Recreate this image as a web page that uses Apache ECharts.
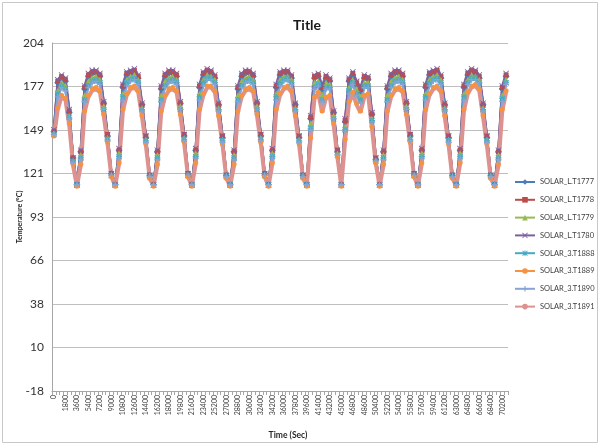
<!DOCTYPE html>
<html>
<head>
<meta charset="utf-8">
<script src="https://cdn.jsdelivr.net/npm/echarts@6/dist/echarts.min.js"></script>
<style>
  html, body { margin: 0; padding: 0; background: #ffffff; }
  #chart { width: 600px; height: 445px; }
</style>
</head>
<body>
<div id="chart"></div>
<script>
// Sample times (s), one reading every 600 s
const timeSec = [
  0,600,1200,1800,2400,3000,3600,4200,4800,5400,
  6000,6600,7200,7800,8400,9000,9600,10200,10800,11400,
  12000,12600,13200,13800,14400,15000,15600,16200,16800,17400,
  18000,18600,19200,19800,20400,21000,21600,22200,22800,23400,
  24000,24600,25200,25800,26400,27000,27600,28200,28800,29400,
  30000,30600,31200,31800,32400,33000,33600,34200,34800,35400,
  36000,36600,37200,37800,38400,39000,39600,40200,40800,41400,
  42000,42600,43200,43800,44400,45000,45600,46200,46800,47400,
  48000,48600,49200,49800,50400,51000,51600,52200,52800,53400,
  54000,54600,55200,55800,56400,57000,57600,58200,58800,59400,
  60000,60600,61200,61800,62400,63000,63600,64200,64800,65400,
  66000,66600,67200,67800,68400,69000,69600,70200,70800
];

// Temperature tick labels (°C), one per 50 °F step from 0 °F to 400 °F
const yTickLabels = ['-18', '10', '38', '66', '93', '121', '149', '177', '204'];

// Temperatures (°C)
const solarL_T1777 = [
  148,179,182,180,160,131,114,
  135,175,183,185,185,183,166,145,121,114,
  136,176,184,185,186,182,165,144,120,114,
  135,175,183,185,185,183,166,145,121,114,
  136,176,184,186,185,182,165,144,120,114,
  135,175,183,185,185,183,166,145,121,114,
  136,176,184,185,185,182,165,144,120,114,
  156,182,183,175,182,180,160,135,114,
  154,180,184,178,174,182,181,159,130,114,
  135,175,183,185,185,183,166,145,121,114,
  136,176,184,185,186,182,165,144,120,114,
  136,176,184,186,185,182,165,144,120,114,
  135,175,183
];
const solarL_T1778 = [
  148,180,183,181,161,131,114,
  135,176,184,186,186,184,166,146,121,114,
  136,177,185,186,187,183,165,145,120,114,
  135,176,184,186,186,184,166,146,121,114,
  136,177,185,187,186,183,165,145,120,114,
  135,176,184,186,186,184,166,146,121,114,
  136,177,185,186,186,183,165,145,120,114,
  157,183,184,176,183,181,160,136,114,
  155,181,185,179,175,183,182,159,131,114,
  135,176,184,186,186,184,166,146,121,114,
  136,177,185,186,187,183,165,145,120,114,
  136,177,185,187,186,183,165,145,120,114,
  135,176,184
];
const solarL_T1779 = [
  147,174,179,177,158,130,114,
  133,171,180,182,183,181,164,144,120,114,
  134,172,181,183,184,181,163,143,120,114,
  133,171,180,182,183,181,164,144,120,114,
  134,172,181,184,183,181,163,143,120,114,
  133,171,180,182,183,181,164,144,120,114,
  134,172,181,183,183,181,163,143,120,114,
  153,179,180,171,179,178,158,134,114,
  151,176,181,175,170,179,179,156,130,114,
  133,171,180,182,183,181,164,144,120,114,
  134,172,181,183,184,181,163,143,120,114,
  134,172,181,184,183,181,163,143,120,114,
  133,171,181
];
const solarL_T1780 = [
  149,181,184,182,162,131,114,
  136,177,185,187,187,185,167,146,121,114,
  137,178,186,187,188,184,166,145,120,114,
  136,177,185,187,187,185,167,146,121,114,
  137,178,186,188,187,184,166,145,120,114,
  136,177,185,187,187,185,167,146,121,114,
  137,178,186,187,187,184,166,145,120,114,
  158,184,185,177,184,182,161,136,114,
  156,182,186,180,176,184,183,160,131,114,
  136,177,185,187,187,185,167,146,121,114,
  137,178,186,187,188,184,166,145,120,114,
  137,178,186,188,187,184,166,145,120,114,
  136,177,185
];
const solar3_T1888 = [
  146,172,177,175,157,129,114,
  131,168,177,180,181,179,162,143,120,114,
  132,170,179,181,182,179,162,142,119,114,
  131,168,177,180,181,179,162,143,120,114,
  132,170,179,182,182,179,162,142,119,114,
  131,168,177,180,181,179,162,143,120,114,
  132,170,179,181,182,179,162,142,119,114,
  150,176,178,168,176,176,156,133,114,
  149,174,179,172,168,177,177,155,129,114,
  131,168,177,180,181,179,162,143,120,114,
  132,170,179,181,182,179,162,142,119,114,
  132,170,179,182,182,179,162,142,119,114,
  131,169,179
];
const solar3_T1889 = [
  145,163,171,169,153,127,113,
  127,161,171,175,176,174,159,141,119,113,
  128,162,172,176,177,174,158,140,118,113,
  127,161,171,175,176,174,159,141,119,113,
  128,162,172,177,177,174,158,140,118,113,
  127,161,171,175,176,174,159,141,119,113,
  128,162,172,176,177,174,158,140,118,113,
  144,170,173,161,170,171,153,132,113,
  143,167,173,166,161,171,172,151,128,113,
  127,161,171,175,176,174,159,141,119,113,
  128,162,172,176,177,174,158,140,118,113,
  128,162,173,177,178,175,158,140,118,113,
  127,162,174
];
const solar3_T1890 = [
  146,170,176,174,156,128,114,
  130,167,176,179,180,178,162,142,120,114,
  131,168,177,180,181,178,161,141,119,114,
  130,167,176,179,180,178,162,142,120,114,
  131,168,177,181,181,178,161,141,119,114,
  130,167,176,179,180,178,162,142,120,114,
  131,168,177,180,181,178,161,141,119,114,
  149,175,177,167,175,175,156,133,114,
  148,172,178,171,166,176,176,154,129,114,
  130,167,176,179,180,178,162,142,120,114,
  131,168,177,180,181,178,161,141,119,114,
  131,168,178,181,181,179,161,141,119,114,
  130,167,178
];
const solar3_T1891 = [
  144,162,170,168,152,126,113,
  126,160,170,174,175,173,158,140,119,113,
  127,161,171,175,176,173,157,139,118,113,
  126,160,170,174,175,173,158,140,119,113,
  127,161,171,176,176,173,157,139,118,113,
  126,160,170,174,175,173,158,140,119,113,
  127,161,171,175,176,173,157,139,118,113,
  143,169,172,160,169,170,152,131,113,
  142,166,172,165,160,170,171,150,127,113,
  126,160,170,174,175,173,158,140,119,113,
  127,161,171,175,176,173,157,139,118,113,
  127,161,172,176,177,174,157,139,118,113,
  126,161,173
];

const seriesNames = [
  'SOLAR_L.T1777', 'SOLAR_L.T1778', 'SOLAR_L.T1779', 'SOLAR_L.T1780',
  'SOLAR_3.T1888', 'SOLAR_3.T1889', 'SOLAR_3.T1890', 'SOLAR_3.T1891'
];
const seriesValues = [
  solarL_T1777, solarL_T1778, solarL_T1779, solarL_T1780,
  solar3_T1888, solar3_T1889, solar3_T1890, solar3_T1891
];

// Marker shapes
const PLUS = 'path://M4,0H6V4H10V6H6V10H4V6H0V4H4Z';
const CROSS = 'path://M1,0L5,4L9,0L10,1L6,5L10,9L9,10L5,6L1,10L0,9L4,5L0,1Z';
const ASTER = 'path://M4.2,0H5.8V4.2H10V5.8H5.8V10H4.2V5.8H0V4.2H4.2Z M1.2,0L5,3.8L8.8,0L10,1.2L6.2,5L10,8.8L8.8,10L5,6.2L1.2,10L0,8.8L3.8,5L0,1.2Z';

const styles = [
  { color: '#4A7EBB', symbol: 'diamond',  size: 7, width: 2.4 },
  { color: '#BE4B48', symbol: 'rect',     size: 5, width: 2.4 },
  { color: '#98B954', symbol: 'triangle', size: 6, width: 2.4 },
  { color: '#7D60A0', symbol: CROSS,      size: 6, width: 2.4 },
  { color: '#46AAC5', symbol: ASTER,      size: 6, width: 2.4 },
  { color: '#F69240', symbol: 'circle',   size: 5, width: 2.4 },
  { color: '#86A4D8', symbol: PLUS,       size: 6, width: 2.4 },
  { color: '#DE928F', symbol: 'none',     size: 0, width: 4 }
];

const FONT = 'Lato, "Open Sans", "DejaVu Sans", sans-serif';

const series = seriesNames.map((name, k) => ({
  type: 'line',
  name: name,
  data: seriesValues[k],
  yAxisIndex: 1,
  symbol: styles[k].symbol,
  symbolSize: styles[k].size,
  showSymbol: styles[k].symbol !== 'none',
  showAllSymbol: true,
  lineStyle: { color: styles[k].color, width: styles[k].width },
  itemStyle: { color: styles[k].color, borderWidth: 0 },
  emphasis: { disabled: true }
}));

const chart = echarts.init(document.getElementById('chart'), null, { renderer: 'canvas' });
chart.setOption({
  animation: false,
  backgroundColor: '#ffffff',
  title: {
    text: 'Title',
    left: 288,
    top: 13,
    textStyle: { fontFamily: FONT, fontSize: 14, fontWeight: 'bold', color: '#1a1a1a' }
  },
  graphic: [{
    type: 'rect',
    shape: { x: 2.5, y: 2.5, width: 595, height: 440 },
    style: { fill: 'none', stroke: '#c8c8c8', lineWidth: 1 },
    silent: true
  }],
  legend: {
    orient: 'vertical',
    left: 514,
    top: 178,
    padding: 0,
    itemWidth: 20,
    itemHeight: 7,
    itemGap: 9.8,
    textStyle: { fontFamily: FONT, fontSize: 7.5, color: '#404040', width: 60, overflow: 'none' },
    data: seriesNames
  },
  grid: { left: 52, right: 92, top: 43, bottom: 53, containLabel: false },
  xAxis: {
    type: 'category',
    data: timeSec,
    boundaryGap: true,
    name: 'Time (Sec)',
    nameLocation: 'middle',
    nameGap: 40,
    nameMoveOverlap: false,
    nameTextStyle: { fontFamily: FONT, fontSize: 8.5, fontWeight: 'bold', color: '#262626', padding: [0, 0, 0, 16] },
    axisLine: { lineStyle: { color: '#a6a6a6', width: 1 } },
    axisTick: { show: true, interval: 0, length: 4, lineStyle: { color: '#a6a6a6' } },
    axisLabel: { interval: 2, rotate: 90, fontFamily: FONT, fontSize: 7, color: '#404040', margin: 4 },
    splitLine: { show: false }
  },
  yAxis: [
    {
      // Tick scale in °F steps, labelled in °C
      type: 'value',
      min: 0,
      max: 400,
      interval: 50,
      name: 'Temperature (°C)',
      nameLocation: 'middle',
      nameGap: 29,
      nameMoveOverlap: false,
      nameRotate: 90,
      nameTextStyle: { fontFamily: FONT, fontSize: 7, fontWeight: 'bold', color: '#262626' },
      axisLine: { show: true, lineStyle: { color: '#a6a6a6' } },
      axisTick: { show: false },
      axisLabel: {
        fontFamily: FONT, fontSize: 12, color: '#333333', margin: 8,
        formatter: (v) => yTickLabels[Math.round(v / 50)]
      },
      splitLine: { show: true, lineStyle: { color: '#bfbfbf', width: 1 } }
    },
    {
      // Data scale in °C spanning the same range
      type: 'value',
      min: -160 / 9,
      max: 1840 / 9,
      show: false,
      splitLine: { show: false }
    }
  ],
  series: series
});
</script>
</body>
</html>
